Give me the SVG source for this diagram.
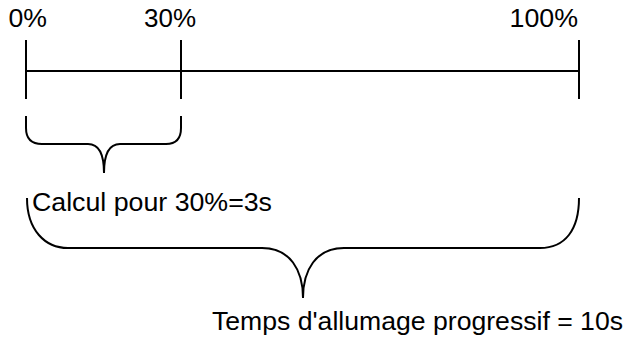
<svg xmlns="http://www.w3.org/2000/svg" width="626" height="337" viewBox="0 0 626 337">
<style>
.ln{stroke:#000;stroke-width:2;fill:none}
.t{font-family:"Liberation Sans",Arial,sans-serif;font-size:25px;fill:#000}
</style>
<rect width="626" height="337" fill="#fff"/>
<g id="connectors">
<line class="ln" x1="26" y1="71" x2="579" y2="71"/>
<path class="ln" d="M26,116 L26,128 Q26,144 42,144 L88,144 C100,144 104,155 104,173 C104,155 108,144 120,144 L166,144 Q181,144 181,128 L181,116"/>
<path class="ln" d="M27,198 C27,230 45,248 68,248 L262,248 C290,248 303,270 303,298 C303,270 316,248 344,248 L540,248 C565,248 579,230 579,198"/>
</g>
<g id="tick0"><line class="ln" x1="26" y1="40" x2="26" y2="99"/><text class="t" x="8.5" y="27" textLength="38.5" lengthAdjust="spacingAndGlyphs">0%</text></g>
<g id="tick30"><line class="ln" x1="181" y1="40" x2="181" y2="99"/><text class="t" x="144" y="27" textLength="52" lengthAdjust="spacingAndGlyphs">30%</text></g>
<g id="tick100"><line class="ln" x1="579" y1="40" x2="579" y2="99"/><text class="t" x="509.5" y="27" textLength="68.5" lengthAdjust="spacingAndGlyphs">100%</text></g>
<g id="label30"><text class="t" x="32" y="211" textLength="240" lengthAdjust="spacingAndGlyphs">Calcul pour 30%=3s</text></g>
<g id="label100"><text class="t" x="212" y="330" textLength="411" lengthAdjust="spacingAndGlyphs">Temps d'allumage progressif = 10s</text></g>
</svg>
